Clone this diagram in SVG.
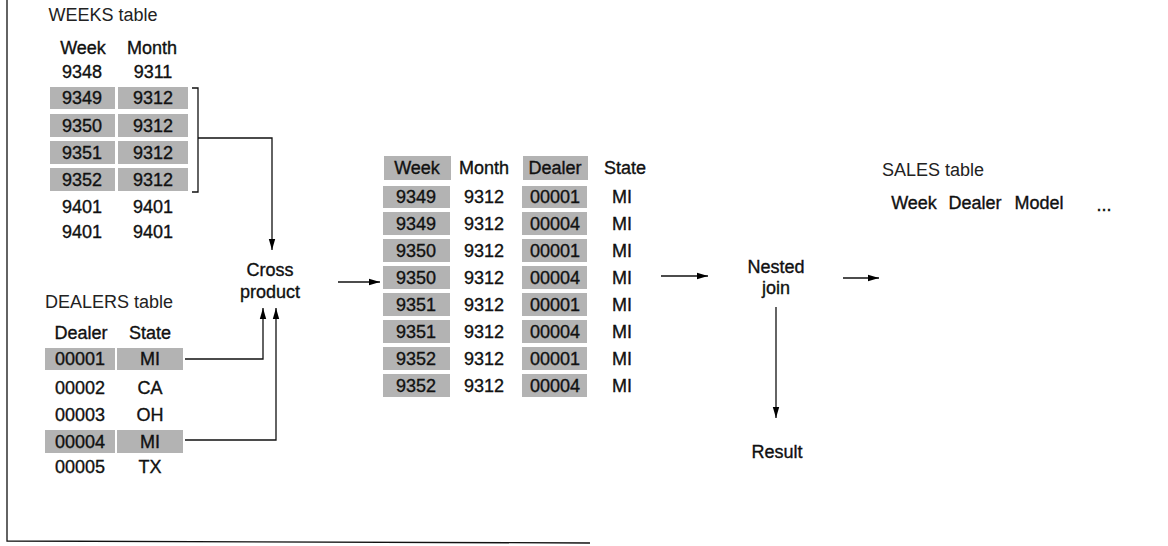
<svg xmlns="http://www.w3.org/2000/svg" width="1168" height="546" viewBox="0 0 1168 546">
<defs>
<marker id="ah" markerWidth="12" markerHeight="8" refX="11" refY="4" orient="auto" markerUnits="userSpaceOnUse">
<path d="M0,0.8 L11,4 L0,7.2 Z" fill="#000"/>
</marker>
<style>
text{font-family:"Liberation Sans",Arial,sans-serif;font-size:18px;fill:#111;text-anchor:middle}
.t{fill:#222}
.d{stroke:#111;stroke-width:0.35}
.sh{fill:#b3b3b3}
.ln{fill:none;stroke:#111;stroke-width:1.3}
.ar{fill:none;stroke:#111;stroke-width:1.3;marker-end:url(#ah)}
</style>
</defs>
<rect width="1168" height="546" fill="#fff"/>
<g id="frame">
<path class="ln" d="M7,0 L7,541 L590,543"/>
</g>
<g id="weeks">
<text class="t" x="103" y="21">WEEKS table</text>
<rect class="sh" x="50" y="87" width="65" height="22"/>
<rect class="sh" x="118" y="87" width="70" height="22"/>
<rect class="sh" x="50" y="114" width="65" height="23"/>
<rect class="sh" x="118" y="114" width="70" height="23"/>
<rect class="sh" x="50" y="141" width="65" height="23"/>
<rect class="sh" x="118" y="141" width="70" height="23"/>
<rect class="sh" x="50" y="168" width="65" height="23"/>
<rect class="sh" x="118" y="168" width="70" height="23"/>
<g class="d">
<text x="83" y="54">Week</text><text x="152" y="54">Month</text>
<text x="82" y="78">9348</text><text x="153" y="78">9311</text>
<text x="82" y="104">9349</text><text x="153" y="104">9312</text>
<text x="82" y="132">9350</text><text x="153" y="132">9312</text>
<text x="82" y="159">9351</text><text x="153" y="159">9312</text>
<text x="82" y="186">9352</text><text x="153" y="186">9312</text>
<text x="82" y="213">9401</text><text x="153" y="213">9401</text>
<text x="82" y="238">9401</text><text x="153" y="238">9401</text>
</g>
</g>
<g id="dealers">
<text class="t" x="109" y="308">DEALERS table</text>
<rect class="sh" x="45" y="348" width="70" height="22"/>
<rect class="sh" x="117" y="348" width="66" height="22"/>
<rect class="sh" x="45" y="430" width="70" height="23"/>
<rect class="sh" x="117" y="430" width="66" height="23"/>
<g class="d">
<text x="81" y="339">Dealer</text><text x="150" y="339">State</text>
<text x="80" y="365">00001</text><text x="150" y="365">MI</text>
<text x="80" y="394">00002</text><text x="150" y="394">CA</text>
<text x="80" y="421">00003</text><text x="150" y="421">OH</text>
<text x="80" y="448">00004</text><text x="150" y="448">MI</text>
<text x="80" y="473">00005</text><text x="150" y="473">TX</text>
</g>
</g>
<g id="cross">
<text class="d" x="270" y="276">Cross</text>
<text class="d" x="270" y="298">product</text>
</g>
<g id="crosstable">
<rect class="sh" x="384" y="156" width="67" height="24"/>
<rect class="sh" x="523" y="156" width="65" height="24"/>
<rect class="sh" x="383" y="186" width="67" height="22"/>
<rect class="sh" x="522" y="186" width="65" height="22"/>
<rect class="sh" x="383" y="212" width="67" height="23"/>
<rect class="sh" x="522" y="212" width="65" height="23"/>
<rect class="sh" x="383" y="239" width="67" height="23"/>
<rect class="sh" x="522" y="239" width="65" height="23"/>
<rect class="sh" x="383" y="266" width="67" height="23"/>
<rect class="sh" x="522" y="266" width="65" height="23"/>
<rect class="sh" x="383" y="293" width="67" height="23"/>
<rect class="sh" x="522" y="293" width="65" height="23"/>
<rect class="sh" x="383" y="320" width="67" height="23"/>
<rect class="sh" x="522" y="320" width="65" height="23"/>
<rect class="sh" x="383" y="347" width="67" height="23"/>
<rect class="sh" x="522" y="347" width="65" height="23"/>
<rect class="sh" x="383" y="374" width="67" height="23"/>
<rect class="sh" x="522" y="374" width="65" height="23"/>
<g class="d">
<text x="417" y="174">Week</text><text x="484" y="174">Month</text><text x="555" y="174">Dealer</text><text x="625" y="174">State</text>
<text x="416" y="203">9349</text><text x="484" y="203">9312</text><text x="555" y="203">00001</text><text x="622" y="203">MI</text>
<text x="416" y="230">9349</text><text x="484" y="230">9312</text><text x="555" y="230">00004</text><text x="622" y="230">MI</text>
<text x="416" y="257">9350</text><text x="484" y="257">9312</text><text x="555" y="257">00001</text><text x="622" y="257">MI</text>
<text x="416" y="284">9350</text><text x="484" y="284">9312</text><text x="555" y="284">00004</text><text x="622" y="284">MI</text>
<text x="416" y="311">9351</text><text x="484" y="311">9312</text><text x="555" y="311">00001</text><text x="622" y="311">MI</text>
<text x="416" y="338">9351</text><text x="484" y="338">9312</text><text x="555" y="338">00004</text><text x="622" y="338">MI</text>
<text x="416" y="365">9352</text><text x="484" y="365">9312</text><text x="555" y="365">00001</text><text x="622" y="365">MI</text>
<text x="416" y="392">9352</text><text x="484" y="392">9312</text><text x="555" y="392">00004</text><text x="622" y="392">MI</text>
</g>
</g>
<g id="nested">
<text class="d" x="776" y="273">Nested</text>
<text class="d" x="776" y="294">join</text>
</g>
<g id="sales">
<text class="t" x="933" y="176">SALES table</text>
<g class="d">
<text x="914" y="209">Week</text><text x="975" y="209">Dealer</text><text x="1039" y="209">Model</text>
<text x="1104" y="211">...</text>
</g>
</g>
<g id="result">
<text class="d" x="777" y="458">Result</text>
</g>
<g id="connectors">
<path class="ln" d="M192,88 L198,88 L198,192 L192,192"/>
<path class="ar" d="M198,138 L272,138 L272,250"/>
<path class="ar" d="M185,359 L263,359 L263,308"/>
<path class="ar" d="M185,440 L276,440 L276,308"/>
<path class="ar" d="M338,282 L380,282"/>
<path class="ar" d="M661,276 L708,276"/>
<path class="ar" d="M843,278 L879,278"/>
<path class="ar" d="M776,307 L776,418"/>
</g>
</svg>
